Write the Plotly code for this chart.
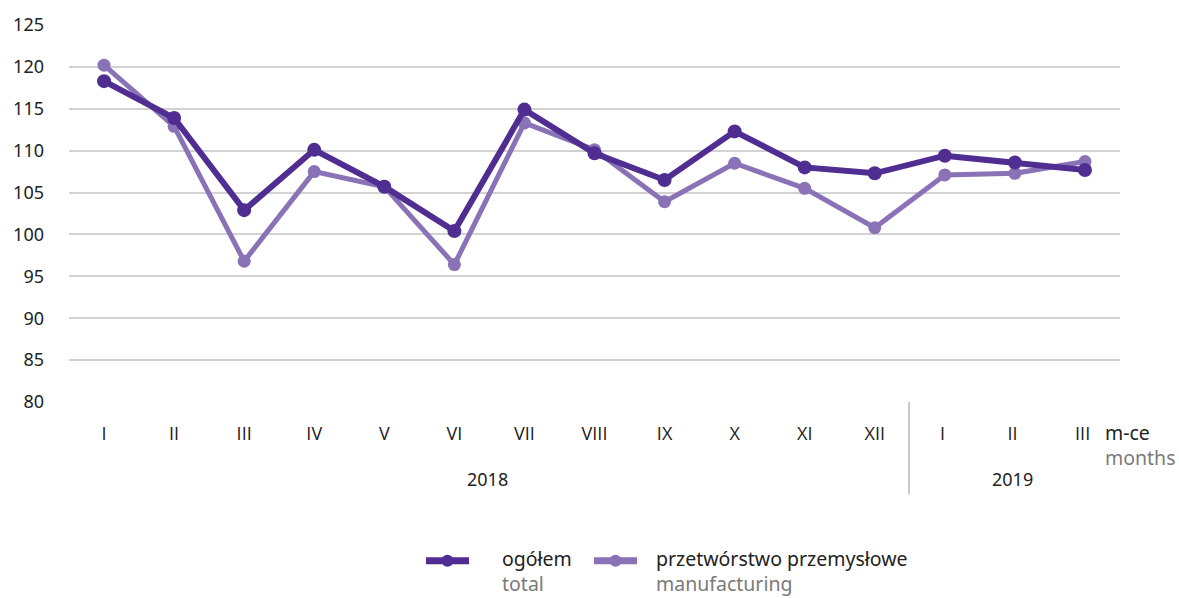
import plotly.graph_objects as go

months = ["I", "II", "III", "IV", "V", "VI", "VII", "VIII", "IX", "X", "XI", "XII", "I ", "II ", "III "]
total = [118.3, 113.9, 102.9, 110.1, 105.7, 100.4, 114.9, 109.7, 106.5, 112.3, 108.0, 107.3, 109.4, 108.6, 107.7]
manufacturing = [120.2, 112.9, 96.8, 107.5, 105.7, 96.4, 113.3, 110.1, 103.9, 108.5, 105.5, 100.8, 107.1, 107.3, 108.7]
y_ticks = [80, 85, 90, 95, 100, 105, 110, 115, 120, 125]

C_TOTAL = "#4f2d91"
C_MANU = "#8a72b6"
GRAY = "#7a7a7a"
FONT = "Noto Sans"
FS = 18
FS_TXT = 19.5

W, H = 1179, 598
ML, MR, MT, MB = 69, 59, 22, 196
PW = W - ML - MR
PH = H - MT - MB

def px(x):
    return (x - ML) / PW

def py(y):
    return (H - MB - y) / PH

fig = go.Figure()
fig.add_trace(go.Scatter(x=months, y=manufacturing, mode="lines+markers",
                         line=dict(color=C_MANU, width=5),
                         marker=dict(color=C_MANU, size=13),
                         name="przetwórstwo przemysłowe", showlegend=False))
fig.add_trace(go.Scatter(x=months, y=total, mode="lines+markers",
                         line=dict(color=C_TOTAL, width=6),
                         marker=dict(color=C_TOTAL, size=14),
                         name="ogółem", showlegend=False))

fig.update_layout(
    width=W, height=H,
    margin=dict(l=ML, r=MR, t=MT, b=MB),
    paper_bgcolor="white", plot_bgcolor="white",
    font=dict(family=FONT, size=FS, color="#222222"),
    xaxis=dict(type="category", range=[-0.5, 14.5], showgrid=False, zeroline=False,
               showline=False, ticks="", tickfont=dict(family="Open Sans", size=FS, color="#222222"),
               ticklabelstandoff=19, fixedrange=True),
    yaxis=dict(range=[80, 125], tickvals=y_ticks, showgrid=True, gridcolor="#d2d2d2",
               gridwidth=2, zeroline=False, showline=False, ticks="",
               tickfont=dict(family=FONT, size=FS, color="#222222"), ticklabelstandoff=24,
               fixedrange=True),
    showlegend=False,
)

anns = []
def ann(x, y, text, color="#222222", xanchor="left", size=FS_TXT):
    anns.append(dict(x=px(x), y=py(y), xref="paper", yref="paper", text=text,
                     showarrow=False, xanchor=xanchor, yanchor="middle", align="left",
                     borderpad=0,
                     font=dict(family=FONT, size=size, color=color)))

def two(top, bottom):
    return f"{top}<br><span style='color:{GRAY}'>{bottom}</span>"

ann(487, 480, "2018", xanchor="center", size=FS)
ann(1012, 480, "2019", xanchor="center", size=FS)
ann(1104, 445, two("m-ce", "months"))
ann(501, 572, two("ogółem", "total"))
ann(655, 572, two("przetwórstwo przemysłowe", "manufacturing"))
fig.update_layout(annotations=anns)

shapes = [
    dict(type="line", xref="paper", yref="paper", x0=px(909), x1=px(909), y0=py(402), y1=py(495),
         line=dict(color="#c8c8c8", width=2)),
]
for x0, x1, c in [(426, 469, C_TOTAL), (594, 637, C_MANU)]:
    shapes.append(dict(type="line", xref="paper", yref="paper", x0=px(x0), x1=px(x1),
                       y0=py(562), y1=py(562), line=dict(color=c, width=7)))
    cx = (x0 + x1) / 2
    shapes.append(dict(type="circle", xref="paper", yref="paper", x0=px(cx - 6), x1=px(cx + 6),
                       y0=py(568), y1=py(556), fillcolor=c, line=dict(width=0)))
fig.update_layout(shapes=shapes)

fig.write_html("out.html", config={"displayModeBar": False},
               post_script="document.body.style.margin='0';document.body.style.overflow='hidden';")
